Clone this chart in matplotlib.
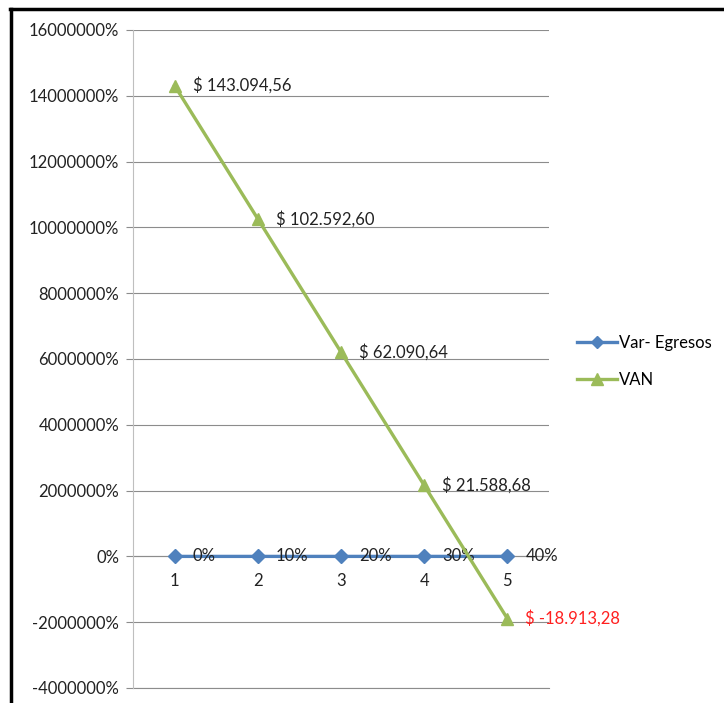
import matplotlib.pyplot as plt
from matplotlib.lines import Line2D
from matplotlib.ticker import FuncFormatter, MultipleLocator

plt.rcParams['font.family'] = ['Lato', 'DejaVu Sans']

periodos = [1, 2, 3, 4, 5]
var_egresos = [0.0, 0.10, 0.20, 0.30, 0.40]
van = [143094.56, 102592.60, 62090.64, 21588.68, -18913.28]

azul = '#4F81BD'
verde = '#9BBB59'
gris = '#8C8C8C'
fs = 12

fig = plt.figure(figsize=(7.24, 7.03), dpi=100)
ax = fig.add_axes([133 / 724, 1 - 688 / 703, (549 - 133) / 724, (688 - 30) / 703])

x = list(range(len(periodos)))
ax.plot(x, var_egresos, color=azul, lw=2.4, marker='D', ms=7, zorder=3)
ax.plot(x, van, color=verde, lw=2.4, marker='^', ms=9, zorder=4)

# etiquetas de datos
for xi, v in zip(x, var_egresos):
    ax.annotate(f'{v:.0%}', (xi, v), xytext=(13, 0), textcoords='offset points',
                va='center', ha='left', fontsize=fs, color='#222222')


def pesos(v):
    s = f'{v:,.2f}'.replace(',', 'X').replace('.', ',').replace('X', '.')
    return f'$ {s}'


for xi, v in zip(x, van):
    ax.annotate(pesos(v), (xi, v), xytext=(13, 0), textcoords='offset points',
                va='center', ha='left', fontsize=fs,
                color='#FF2020' if v < 0 else '#222222')

ax.set_xlim(-0.5, 4.5)
ax.set_ylim(-40000, 160000)
ax.yaxis.set_major_locator(MultipleLocator(20000))
ax.yaxis.set_major_formatter(FuncFormatter(lambda v, p: f'{v * 100:.0f}%'))
ax.grid(axis='y', color=gris, lw=0.8)
ax.axhline(-40000, color=gris, lw=0.8, clip_on=False)
ax.set_axisbelow(True)
ax.tick_params(axis='y', length=5, color=gris, labelsize=fs, pad=5, labelcolor='#222222')

# eje de categorias en cero
ax.set_xticks([])
ax.axhline(0, color=gris, lw=0.8, zorder=1)
for xi, p in zip(x, periodos):
    ax.text(xi, -5000, str(p), ha='center', va='top', fontsize=fs, color='#222222')

for s in ['top', 'right', 'bottom']:
    ax.spines[s].set_visible(False)
ax.spines['left'].set_color('#BFBFBF')

handles = [Line2D([], [], color=azul, lw=2.4, marker='D', ms=6),
           Line2D([], [], color=verde, lw=2.4, marker='^', ms=8)]
fig.legend(handles, ['Var- Egresos', 'VAN'], loc='upper left',
           bbox_to_anchor=(562 / 724, 1 - 320 / 703), frameon=False,
           fontsize=fs, handlelength=2.4, handletextpad=0.1, labelspacing=1.25)

# marco
fig.add_artist(Line2D([10 / 724, 1], [1 - 9 / 703, 1 - 9 / 703], color='black', lw=2.5,
                      transform=fig.transFigure))
fig.add_artist(Line2D([11 / 724, 11 / 724], [0, 1 - 9 / 703], color='black', lw=2.5,
                      transform=fig.transFigure))

fig.savefig('out.png', dpi=100)
